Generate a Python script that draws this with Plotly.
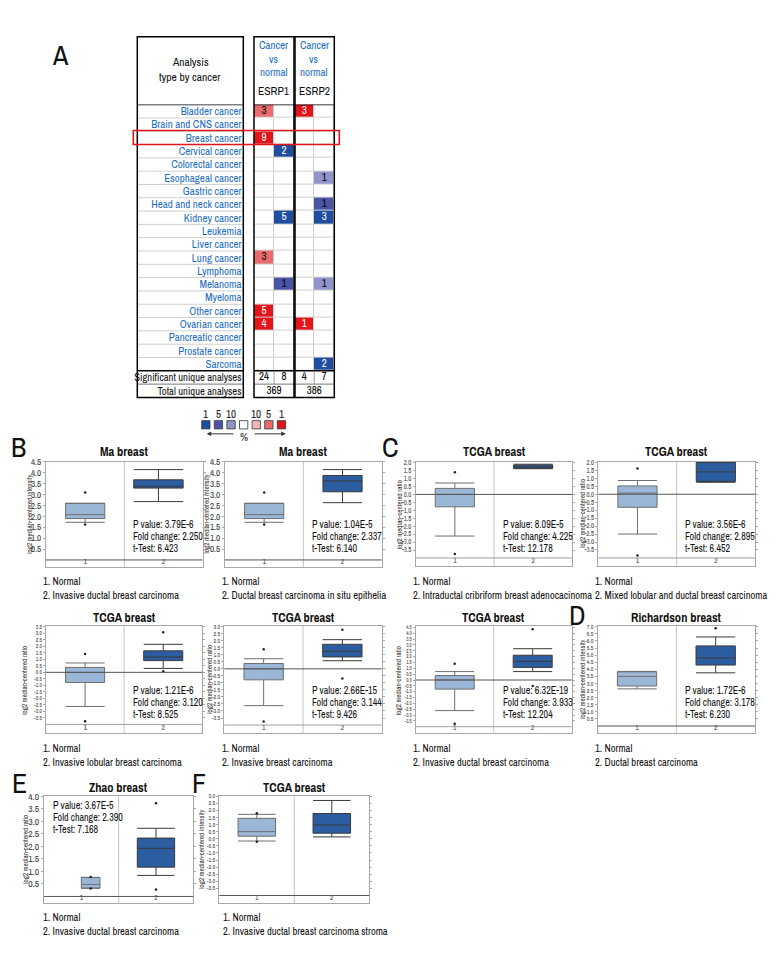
import plotly.graph_objects as go

W, H = 780, 960
FONT = "'Archivo Narrow', 'DejaVu Sans Condensed', sans-serif"


def fx(p):
    return p / W


def fy(p):
    return 1 - p / H


# ---------------- Panel A data ----------------
cancers = ["Bladder cancer", "Brain and CNS cancer", "Breast cancer", "Cervical cancer",
           "Colorectal cancer", "Esophageal cancer", "Gastric cancer", "Head and neck cancer",
           "Kidney cancer", "Leukemia", "Liver cancer", "Lung cancer", "Lymphoma", "Melanoma",
           "Myeloma", "Other cancer", "Ovarian cancer", "Pancreatic cancer", "Prostate cancer",
           "Sarcoma"]
genes = ["ESRP1", "ESRP2"]
N = None
esrp1_up = [3, N, 9, N, N, N, N, N, N, N, N, 3, N, N, N, 5, 4, N, N, N]
esrp1_up_rank = [5, N, 1, N, N, N, N, N, N, N, N, 5, N, N, N, 1, 1, N, N, N]
esrp1_down = [N, N, N, 2, N, N, N, N, 5, N, N, N, N, 1, N, N, N, N, N, N]
esrp1_down_rank = [N, N, N, 1, N, N, N, N, 1, N, N, N, N, 5, N, N, N, N, N, N]
esrp2_up = [3, N, N, N, N, N, N, N, N, N, N, N, N, N, N, N, 1, N, N, N]
esrp2_up_rank = [1, N, N, N, N, N, N, N, N, N, N, N, N, N, N, N, 1, N, N, N]
esrp2_down = [N, N, N, N, N, 1, N, 1, 3, N, N, N, N, 1, N, N, N, N, N, 2]
esrp2_down_rank = [N, N, N, N, N, 10, N, 5, 1, N, N, N, N, 10, N, N, N, N, N, 1]
significant = [24, 8, 4, 7]
total = [369, 386]
legend_pcts = ["1", "5", "10", "", "10", "5", "1"]

# ---------------- Box-plot panels data ----------------
panel_titles = ["Ma breast", "Ma breast", "TCGA breast", "TCGA breast", "TCGA breast",
                "TCGA breast", "TCGA breast", "Richardson breast", "Zhao breast", "TCGA breast"]
panel_letters = ["B", "", "C", "", "", "", "", "D", "E", "F"]
y_titles = ["intensity", "intensity", "ratio", "ratio", "ratio", "ratio", "ratio",
            "intensity", "ratio", "intensity"]
p_values = ["3.79E-6", "1.04E-5", "8.09E-5", "3.56E-6", "1.21E-6", "2.66E-15", "6.32E-19",
            "1.72E-6", "3.67E-5", None]
fold_changes = ["2.250", "2.337", "4.225", "2.895", "3.120", "3.144", "3.933", "3.178", "2.390", None]
t_tests = ["6.423", "6.140", "12.178", "6.452", "8.525", "9.426", "12.204", "6.230", "7.168", None]
group1_labels = ["Normal"] * 10
group2_labels = ["Invasive ductal breast carcinoma", "Ductal breast carcinoma in situ epithelia",
                 "Intraductal cribriform breast adenocacinoma",
                 "Mixed lobular and ductal breast carcinoma", "Invasive lobular breast carcinoma",
                 "Invasive breast carcinoma", "Invasive ductal breast carcinoma",
                 "Ductal breast carcinoma", "Invasive ductal breast carcinoma",
                 "Invasive ductal breast carcinoma stroma"]

normal_q1 = [1.90, 1.90, -0.78, -0.82, -0.78, -0.78, -0.78, 2.82, 0.33, 0.18]
normal_med = [2.08, 2.08, 0.00, 0.07, 0.00, 0.00, 0.00, 3.50, 0.48, 0.50]
normal_q3 = [2.60, 2.60, 0.38, 0.52, 0.38, 0.38, 0.38, 3.82, 0.76, 1.44]
normal_lo = [1.73, 1.73, -2.62, -2.50, -2.62, -2.62, -2.62, 2.62, 0.33, -0.16]
normal_hi = [2.60, 2.60, 0.72, 0.86, 0.72, 0.72, 0.72, 3.85, 0.76, 1.72]
normal_out = [[3.10, 1.63], [3.10, 1.63], [1.40, -3.75], [1.62, -3.85], [1.40, -3.75],
              [1.40, -3.75], [1.40, -3.75], [], [0.78, 0.32], [1.80, -0.22]]
tumor_q1 = [3.30, 3.13, 1.65, 0.80, 0.90, 0.85, 1.08, 4.30, 1.17, 0.39]
tumor_med = [3.38, 3.63, 1.72, 1.40, 1.18, 1.25, 1.60, 4.80, 1.92, 0.97]
tumor_q3 = [3.68, 3.88, 1.85, 2.00, 1.65, 1.75, 2.12, 5.65, 2.33, 1.78]
tumor_lo = [2.68, 2.63, 1.62, 0.75, 0.30, 0.58, 0.72, 3.75, 0.84, 0.13]
tumor_hi = [4.15, 4.15, 1.90, 2.00, 2.15, 2.08, 2.68, 6.28, 2.72, 2.70]
tumor_out = [[], [], [], [], [3.08, 0.08], [2.78, -0.68], [4.35, -0.52], [6.90], [3.72, 0.28], []]

# ---------------- layout geometry (pixels) ----------------
frames = [
    (46, 202.7, 458.3, 564, 4.5, 458.3, 0.0, 557),
    (225, 381.7, 458.3, 564, 4.5, 458.3, 0.0, 557),
    (415.7, 572.3, 458.3, 563.3, 2.0, 459, -4.0, 555),
    (598.3, 755, 458, 563, 2.0, 458.7, -4.0, 555),
    (46, 202.3, 623.5, 731.7, 3.5, 624.3, -4.0, 722.7),
    (224.3, 381.7, 623.5, 731.7, 3.0, 624.3, -4.0, 723.3),
    (415.7, 571.7, 624, 731.7, 4.5, 625, -4.0, 725),
    (597.7, 755, 623.5, 731.7, 7.0, 624.3, 0.0, 724.3),
    (44, 193.3, 795, 902.7, 4.0, 795, 0.0, 896),
    (219.3, 369.3, 795, 902.7, 3.0, 795, -4.0, 895),
]
ref_lines = [0, 0, 0, 0, 0, 0, 0, 0, 0, -4]
box_w1 = [0.5, 0.5, 0.5, 0.5, 0.5, 0.5, 0.5, 0.5, 0.25, 0.5]
box_w2 = [0.63, 0.5, 0.5, 0.5, 0.5, 0.5, 0.5, 0.5, 0.5, 0.5]
tick_sizes = [9, 9, 6.6, 6.6, 5.4, 5.8, 4.9, 5.9, 9.5, 5.9]
ytitle_x = [29.3, 206, 399, 583, 25, 210, 399, 583, 26, 202]
title_y = [447.5, 447.5, 447.5, 447.5, 615, 615, 615, 615, 786.5, 786.5]
stats_pos = [(131.7, 521), (310.7, 521), (502.3, 521), (684.3, 521), (131.7, 688.5),
             (310.7, 688.5), (502.3, 688.5), (684.3, 688.5), (51.7, 804), None]
labels_pos = [(42, 578), (221, 578), (412, 578), (594, 578), (42, 746), (221, 746),
              (412, 746), (594, 746), (42, 916.7), (222, 916.7)]
letter_pos = [(18, 443), None, (390, 443), None, None, None, None, (577, 612), (19, 782), (199, 782)]

LIGHT_FILL = "#9bb7d8"
DARK_FILL = "#2c5da0"
FRAME = "#a8a8a8"

fig = go.Figure()
shapes = []
ann = []
layout_axes = {}


def txt(x, y, s, size=11, color="#111", xanchor="left", yanchor="middle", bold=False, angle=0):
    ann.append(dict(x=fx(x), y=fy(y), xref="paper", yref="paper", text=s, showarrow=False,
                    xanchor=xanchor, yanchor=yanchor, textangle=angle, borderpad=0,
                    font=dict(family=FONT, size=size, color=color,
                              weight="bold" if bold else "normal")))


# ================= Panel A: table =================
cols_counts = [esrp1_up, esrp1_down, esrp2_up, esrp2_down]
cols_ranks = [esrp1_up_rank, esrp1_down_rank, esrp2_up_rank, esrp2_down_rank]
cols_dir = ["up", "down", "up", "down"]
code_map = {("down", 1): 1, ("down", 5): 2, ("down", 10): 3,
            ("up", 10): 4, ("up", 5): 5, ("up", 1): 6}
level_colors = ["#ffffff", "#1f4e9e", "#4c52a6", "#9094cb", "#f4b6b6", "#e86c6e", "#e3151b"]
nrow = len(cancers)
z = [[code_map[(cols_dir[c], cols_ranks[c][r])] if cols_counts[c][r] is not None else 0
      for c in range(4)] for r in range(nrow)]
cs = []
for k, col in enumerate(level_colors):
    cs.append([k / 7, col])
    cs.append([(k + 1) / 7, col])
fig.add_trace(go.Heatmap(z=z, x=[0, 1, 2, 3], y=list(range(nrow)), zmin=-0.5, zmax=6.5,
                         colorscale=cs, showscale=False, xgap=1, ygap=1,
                         xaxis="x11", yaxis="y11", hoverinfo="skip"))
tx, ty, tt, tc = [], [], [], []
for c in range(4):
    for r in range(nrow):
        if cols_counts[c][r] is not None:
            tx.append(c)
            ty.append(r)
            tt.append(str(cols_counts[c][r]))
            tc.append("white" if cols_ranks[c][r] == 1 else "black")
fig.add_trace(go.Scatter(x=tx, y=ty, text=tt, mode="text", textfont=dict(family=FONT, size=11, color=tc),
                         xaxis="x11", yaxis="y11", hoverinfo="skip", showlegend=False))
fig.add_trace(go.Scatter(x=[0, 1, 2, 3], y=[nrow] * 4, text=[str(v) for v in significant], mode="text",
                         textfont=dict(family=FONT, size=11, color="black"),
                         xaxis="x11", yaxis="y11", hoverinfo="skip", showlegend=False))
fig.add_trace(go.Scatter(x=[0.5, 2.5], y=[nrow + 1] * 2, text=[str(v) for v in total], mode="text",
                         textfont=dict(family=FONT, size=11, color="black"),
                         xaxis="x11", yaxis="y11", hoverinfo="skip", showlegend=False))

row_ticktext = cancers + ['<span style="color:#111;font-size:10.6px">Significant unique analyses</span>',
                          '<span style="color:#111;font-size:10.6px">Total unique analyses</span>']
layout_axes["xaxis11"] = dict(domain=[fx(254), fx(334.3)], range=[-0.5, 3.5], visible=False,
                              anchor="y11", fixedrange=True)
layout_axes["yaxis11"] = dict(domain=[fy(393.3), fy(98.3)], range=[nrow + 1.5, -0.5], anchor="free",
                              position=fx(241.5),
                              showgrid=False, zeroline=False, showline=False, ticks="",
                              tickvals=list(range(nrow + 2)), ticktext=row_ticktext,
                              tickfont=dict(family=FONT, size=11, color="#1f6fc1"),
                              fixedrange=True)

shapes.append(dict(type="rect", xref="x11", yref="y11", x0=-0.5, x1=3.5, y0=-0.5, y1=nrow - 0.5,
                   fillcolor="#cfcfcf", line=dict(width=0), layer="below"))
for r in range(nrow - 1):
    shapes.append(dict(type="line", xref="paper", yref="y11", x0=fx(137.3), x1=fx(243.3),
                       y0=r + 0.5, y1=r + 0.5, line=dict(color="#cfcfcf", width=1)))
for (xa, xb) in [(137.3, 243.3), (254, 294), (295, 334.3)]:
    shapes.append(dict(type="line", xref="paper", yref="y11", x0=fx(xa), x1=fx(xb),
                       y0=nrow - 0.5, y1=nrow - 0.5, line=dict(color="black", width=1.5)))
    shapes.append(dict(type="line", xref="paper", yref="y11", x0=fx(xa), x1=fx(xb),
                       y0=nrow + 0.5, y1=nrow + 0.5, line=dict(color="#777", width=1)))
    shapes.append(dict(type="line", xref="paper", yref="y11", x0=fx(xa), x1=fx(xb),
                       y0=-0.5, y1=-0.5, line=dict(color="black", width=1.5)))
    shapes.append(dict(type="rect", xref="paper", yref="paper", x0=fx(xa), x1=fx(xb),
                       y0=fy(393.3), y1=fy(30), line=dict(color="black", width=1.5)))
for xs in [0.5, 2.5]:
    shapes.append(dict(type="line", xref="x11", yref="y11", x0=xs, x1=xs, y0=nrow - 0.5, y1=nrow + 0.5,
                       line=dict(color="#999", width=1)))
shapes.append(dict(type="rect", xref="paper", yref="y11", x0=fx(133.3), x1=fx(339.3), y0=1.45, y1=2.5,
                   line=dict(color="#e3151b", width=1.6)))

txt(190, 55.5, "Analysis", size=11.5, xanchor="center")
txt(190, 70.5, "type by cancer", size=11.5, xanchor="center")
for gi, gx in enumerate([273.5, 314]):
    txt(gx, 38.5, "Cancer", size=11, color="#1f6fc1", xanchor="center")
    txt(gx, 52, "vs", size=11, color="#1f6fc1", xanchor="center")
    txt(gx, 65.5, "normal", size=11, color="#1f6fc1", xanchor="center")
    txt(gx, 84.5, genes[gi], size=11.5, color="#111", xanchor="center")
txt(60, 48, "A", size=28, xanchor="center")

leg_colors = ["#1f4e9e", "#4c52a6", "#9094cb", "#ffffff", "#f4b6b6", "#e86c6e", "#e3151b"]
for k, lab in enumerate(legend_pcts):
    x0 = 201.7 + 12.6 * k
    shapes.append(dict(type="rect", xref="paper", yref="paper", x0=fx(x0), x1=fx(x0 + 8.3),
                       y0=fy(425), y1=fy(416.7), fillcolor=leg_colors[k],
                       line=dict(color="#333", width=0.8)))
    if lab:
        txt(x0 + 4.15, 409.5, lab, size=11, xanchor="center")
txt(244.3, 433, "%", size=11, xanchor="center")
for (head, tail) in [(206.7, 235), (285.7, 253)]:
    ann.append(dict(x=fx(head), y=fy(430), ax=tail - head, ay=0, xref="paper", yref="paper",
                    axref="pixel", ayref="pixel", text="", showarrow=True, arrowhead=2,
                    arrowsize=0.9, arrowwidth=1, arrowcolor="#333"))

for i in range(10):
    L, R, T, B, tv_top, tp_top, tv_bot, tp_bot = frames[i]
    unit = (tp_bot - tp_top) / (tv_top - tv_bot)
    r_top = tv_top + (tp_top - T) / unit
    r_bot = tv_bot - (B - tp_bot) / unit
    n = i + 1
    xa = "x" if n == 1 else f"x{n}"
    ya = "y" if n == 1 else f"y{n}"
    xk = "xaxis" if n == 1 else f"xaxis{n}"
    yk = "yaxis" if n == 1 else f"yaxis{n}"
    nt = int(round((tv_top - tv_bot) / 0.5))
    tvals = [tv_bot + 0.5 * k for k in range(nt + 1)]
    ttext = ["%.1f" % v for v in tvals]
    layout_axes[xk] = dict(domain=[fx(L), fx(R)], range=[0.5, 2.5], anchor=ya, showline=True,
                           mirror=True, linecolor=FRAME, linewidth=1, showgrid=False, zeroline=False,
                           tickvals=[1, 2], ticktext=["1", "2"], ticks="", ticklabelposition="inside",
                           tickfont=dict(family=FONT, size=7.5, color="#444"), fixedrange=True)
    layout_axes[yk] = dict(domain=[fy(B), fy(T)], range=[r_bot, r_top], anchor=xa, showline=True,
                           mirror="ticks", linecolor=FRAME, linewidth=1, showgrid=False,
                           zeroline=False, ticks="outside", ticklen=2, tickcolor=FRAME,
                           tickvals=tvals, ticktext=ttext,
                           tickfont=dict(family=FONT, size=tick_sizes[i], color="#333"),
                           fixedrange=True)
    shapes.append(dict(type="line", xref=xa, yref=f"{ya} domain", x0=1.5, x1=1.5, y0=0, y1=1,
                       line=dict(color="#c4c4c4", width=1)))
    if ref_lines[i] != tv_bot:
        shapes.append(dict(type="line", xref=f"{xa} domain", yref=ya, x0=0, x1=1, y0=tv_bot, y1=tv_bot,
                           line=dict(color="#a0a0a0", width=1)))
    shapes.append(dict(type="line", xref=f"{xa} domain", yref=ya, x0=0, x1=1,
                       y0=ref_lines[i], y1=ref_lines[i], line=dict(color="#555", width=1)))

    groups = [
        (1, box_w1[i], normal_q1[i], normal_med[i], normal_q3[i], normal_lo[i], normal_hi[i],
         normal_out[i], LIGHT_FILL, "#6e6e6e"),
        (2, box_w2[i], tumor_q1[i], tumor_med[i], tumor_q3[i], tumor_lo[i], tumor_hi[i],
         tumor_out[i], DARK_FILL, "#3a3a3a"),
    ]
    for (cat, w, q1, med, q3, lo, hi, outs, fill, lc) in groups:
        pos = cat + 0.25 - w / 2
        fig.add_trace(go.Box(x=[pos], q1=[q1], median=[med], q3=[q3], lowerfence=[lo],
                             upperfence=[hi], width=w, whiskerwidth=1, fillcolor=fill,
                             line=dict(color=lc, width=1), boxpoints=False, xaxis=xa, yaxis=ya,
                             showlegend=False, hoverinfo="skip"))
        if outs:
            fig.add_trace(go.Scatter(x=[pos] * len(outs), y=outs, mode="markers",
                                     marker=dict(size=2.5, color="#222"), xaxis=xa, yaxis=ya,
                                     showlegend=False, hoverinfo="skip"))

    txt((L + R) / 2, title_y[i], panel_titles[i], size=12.5, xanchor="center", bold=True)
    txt(ytitle_x[i], (T + B) / 2, "log2 median-centered " + y_titles[i], size=7, color="#333",
        xanchor="center", angle=-90)
    if stats_pos[i] is not None:
        sx, sy = stats_pos[i]
        txt(sx, sy, "P value: " + p_values[i], size=10)
        txt(sx, sy + 12.3, "Fold change: " + fold_changes[i], size=10)
        txt(sx, sy + 24.6, "t-Test: " + t_tests[i], size=10)
    lx, ly = labels_pos[i]
    txt(lx, ly, "1. " + group1_labels[i], size=10.5)
    txt(lx, ly + 14.5, "2. " + group2_labels[i], size=10.5)
    if letter_pos[i] is not None:
        txt(letter_pos[i][0], letter_pos[i][1], panel_letters[i], size=28, xanchor="center")

fig.update_layout(width=W, height=H, margin=dict(l=0, r=0, t=0, b=0), paper_bgcolor="white",
                  plot_bgcolor="white", showlegend=False, shapes=shapes, annotations=ann,
                  font=dict(family=FONT), **layout_axes)
fig.write_html("out.html", config={"displayModeBar": False},
               post_script="document.body.style.margin='0';")
